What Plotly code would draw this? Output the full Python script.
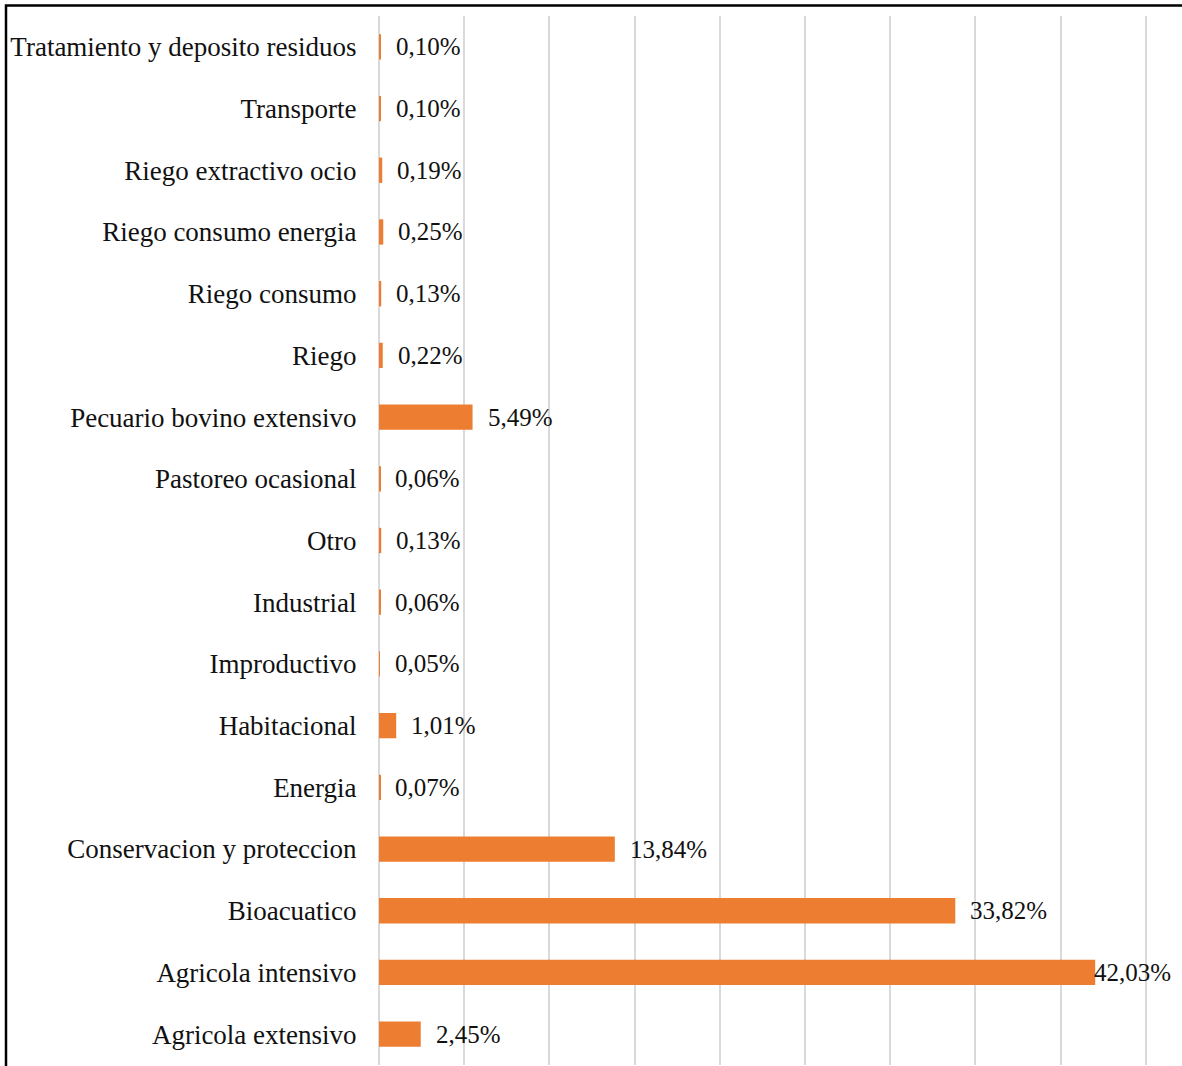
import plotly.graph_objects as go

categories = [
    "Agricola extensivo", "Agricola intensivo", "Bioacuatico",
    "Conservacion y proteccion", "Energia", "Habitacional", "Improductivo",
    "Industrial", "Otro", "Pastoreo ocasional", "Pecuario bovino extensivo",
    "Riego", "Riego consumo", "Riego consumo energia", "Riego extractivo ocio",
    "Transporte", "Tratamiento y deposito residuos",
]
values = [2.45, 42.03, 33.82, 13.84, 0.07, 1.01, 0.05, 0.06, 0.13, 0.06,
          5.49, 0.22, 0.13, 0.25, 0.19, 0.10, 0.10]
labels = [f"{v:.2f}%".replace(".", ",") for v in values]

W, H = 1182, 1066
ML, MR, MT, MB = 379, 12, 16, 1
PW, PH = W - ML - MR, H - MT - MB

fig = go.Figure()
fig.add_trace(go.Bar(
    x=values, y=categories, orientation="h",
    marker=dict(color="#ED7D31", line=dict(width=0)),
    hoverinfo="skip",
))

max_v = max(values)
for c, v, t in zip(categories, values, labels):
    fig.add_annotation(
        x=v, y=c, text=t, showarrow=False, xanchor="left", yanchor="middle",
        xshift=(-3 if v == max_v else 13),
        font=dict(family="Liberation Serif", size=25, color="#111111"),
    )

font_family = "Liberation Serif"
fig.update_layout(
    width=W, height=H,
    margin=dict(l=ML, r=MR, t=MT, b=MB),
    paper_bgcolor="white", plot_bgcolor="white",
    showlegend=False,
    bargap=0.59,
    font=dict(family=font_family, size=27, color="#111111"),
    xaxis=dict(range=[0, PW / 17.04], dtick=5, showgrid=True,
               gridcolor="#D9D9D9", gridwidth=2, showticklabels=False,
               zeroline=True, zerolinecolor="#D9D9D9", zerolinewidth=2,
               showline=False, fixedrange=True),
    yaxis=dict(categoryorder="array", categoryarray=categories,
               ticks="outside", ticklen=16, tickcolor="rgba(0,0,0,0)",
               showline=False, showgrid=False, fixedrange=True,
               tickfont=dict(family=font_family, size=27, color="#111111"),
               range=[-0.5, len(categories) - 0.5]),
)

# outer frame (cropped at right/bottom)
fig.add_shape(type="rect", xref="paper", yref="paper",
              x0=(6 - ML) / PW, x1=1.3, y0=-0.3, y1=1 + (MT - 5.5) / PH,
              line=dict(color="black", width=2.5), fillcolor="rgba(0,0,0,0)",
              layer="above")

fig.write_html("out.html", config={"displayModeBar": False},
               post_script="document.body.style.margin='0px';document.body.style.overflow='hidden';")
